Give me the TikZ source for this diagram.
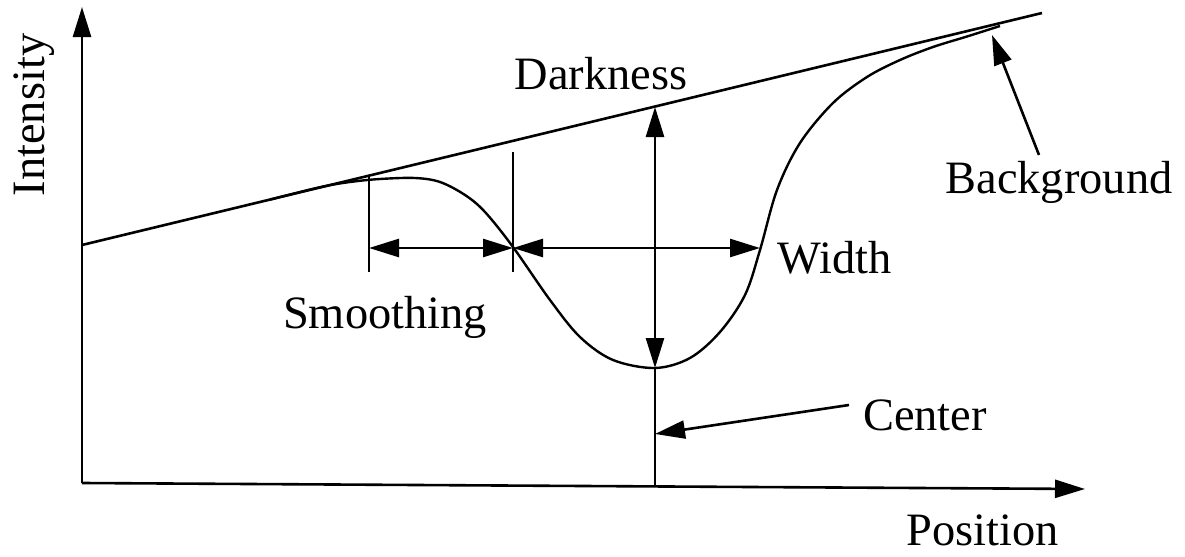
\documentclass[tikz,border=0pt]{standalone}
\usepackage{fontspec}
\setmainfont{Liberation Serif}
\usetikzlibrary{arrows.meta}
\begin{document}
\begin{tikzpicture}[x=0.5pt,y=-0.5pt,line width=1.3pt,
  tip/.style={-{Triangle[length=15pt,width=9pt]}},
  both/.style={{Triangle[length=15pt,width=9pt]}-{Triangle[length=15pt,width=9pt]}},
  lbl/.style={font=\fontsize{23.2}{28}\selectfont,inner sep=0pt,anchor=base}]
\useasboundingbox (0,0) rectangle (1185,557);
% axes
\coordinate (O) at (82,483);
\coordinate (Ytop) at (82,7);
\coordinate (Xend) at (1085,489);
\draw[tip] (O) -- (Ytop);
\draw[tip] (O) -- (Xend);
% background line
\coordinate (B0) at (82,245);
\coordinate (B1) at (1042,13);
\draw (B0) -- (B1);
% profile curve
\draw[line width=1.2pt] plot[smooth,tension=0.55] coordinates {
 (270,199.6) (320,187.2) (350,182) (380,179) (415,178) (440,182)
 (465,195) (485,212) (513,247) (550,300) (580,337) (613,360)
 (655,368) (690,358) (720,332) (745,295) (760,250) (777,190)
 (800,143) (833,103) (867,77) (900,60) (933,47) (967,36.5) (1000,26)};
% smoothing markers
\coordinate (S1t) at (369,175.6);
\coordinate (S1b) at (369,272);
\coordinate (S2t) at (513,152);
\coordinate (S2b) at (513,272);
\draw (S1t) -- (S1b);
\draw (S2t) -- (S2b);
\coordinate (SL) at (369,248);
\coordinate (SM) at (513,248);
\coordinate (WR) at (760,248);
\draw[both] (SL) -- (SM);
\draw[both] (SM) -- (WR);
% darkness / center
\coordinate (DT) at (655,107);
\coordinate (DB) at (655,368);
\coordinate (DX) at (655,486);
\draw[both] (DT) -- (DB);
\draw (DB) -- (DX);
\coordinate (CA) at (849,405);
\coordinate (CB) at (655,434);
\draw[tip] (CA) -- (CB);
% background pointer
\coordinate (BA) at (1039,155);
\coordinate (BB) at (992,35);
\draw[tip] (BA) -- (BB);
% labels
\node[lbl,rotate=90] (lint) at (45,115) {Intensity};
\node[lbl] (ldark) at (601,90) {Darkness};
\node[lbl] (lsmooth) at (385,328) {Smoothing};
\node[lbl] (lwidth) at (835,273) {Width};
\node[lbl] (lback) at (1059,193) {Background};
\node[lbl] (lcenter) at (925,430) {Center};
\node[lbl] (lpos) at (983,545) {Position};
\end{tikzpicture}
\end{document}
